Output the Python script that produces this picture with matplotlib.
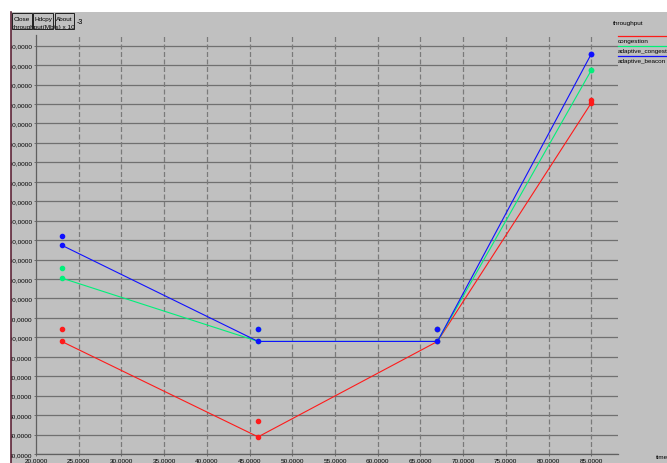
import matplotlib
matplotlib.use("Agg")
import matplotlib.pyplot as plt
from matplotlib.patches import Rectangle
from matplotlib.lines import Line2D

# ---- data ----
time_points = [23, 46, 67, 85]

congestion = [97.9, 48.8, 97.9, 220.5]
adaptive_congestion = [130.5, 97.9, 97.9, 237.3]
adaptive_beacon = [147.4, 97.9, 97.9, 245.7]

congestion_extra = [104.5, 57.0, 104.2, 222.0]
adaptive_congestion_extra = [135.7, 104.2, 104.2, 237.3]
adaptive_beacon_extra = [151.9, 104.2, 104.2, 245.7]

series_names = ["congestion", "adaptive_congestion", "adaptive_beacon"]
series_colors = ["#ff1a1a", "#00f07a", "#1010ff"]

x_ticks = [20, 25, 30, 35, 40, 45, 50, 55, 60, 65, 70, 75, 80, 85]
x_tick_labels = ["20,0000", "25,0000", "30,0000", "35,0000", "40,0000",
                 "45,0000", "50,0000", "55,0000", "60,0000", "65,0000",
                 "70,0000", "75,0000", "80,0000", "85,0000"]
y_ticks = [40, 50, 60, 70, 80, 90, 100, 110, 120, 130, 140, 150, 160,
           170, 180, 190, 200, 210, 220, 230, 240, 250]
y_tick_labels = ["40,0000", "50,0000", "60,0000", "70,0000", "80,0000",
                 "90,0000", "100,0000", "110,0000", "120,0000", "130,0000",
                 "140,0000", "150,0000", "160,0000", "170,0000", "180,0000",
                 "190,0000", "200,0000", "210,0000", "220,0000", "230,0000",
                 "240,0000", "250,0000"]

W, H = 667, 464
BG = "#c0c0c0"
FONT = ["Liberation Sans", "DejaVu Sans"]
FS = 4.6

plt.rcParams["font.family"] = FONT

fig = plt.figure(figsize=(W / 100, H / 100), dpi=100)
fig.patch.set_facecolor(BG)


def fx(px):
    return px / W


def fy(py):
    return 1 - py / H


ax = fig.add_axes([fx(36), fy(455), fx(617.7) - fx(36), fy(36) - fy(455)])
ax.set_facecolor(BG)
ax.set_xlim(20, 88.1)
ax.set_ylim(40, 255.5)

for s in ["top", "right"]:
    ax.spines[s].set_visible(False)
for s in ["left", "bottom"]:
    ax.spines[s].set_color("#606060")
    ax.spines[s].set_linewidth(0.9)

for yv in y_ticks:
    ax.axhline(yv, color="#707070", lw=0.9, zorder=1)
for xv in x_ticks[1:]:
    ax.axvline(xv, color="#7a7a7a", lw=0.9, ls=(0, (4, 2)), zorder=1)

ax.set_xticks(x_ticks)
ax.set_xticklabels(x_tick_labels, fontsize=FS)
ax.set_yticks(y_ticks)
ax.set_yticklabels(y_tick_labels, fontsize=FS)
ax.tick_params(axis="both", length=1.5, width=0.6, color="#606060", pad=1)

main = [congestion, adaptive_congestion, adaptive_beacon]
extra = [congestion_extra, adaptive_congestion_extra, adaptive_beacon_extra]
for vals, ext, col in zip(main, extra, series_colors):
    ax.plot(time_points, vals, color=col, lw=0.8, marker="o", ms=3.0,
            mec=col, mfc=col, zorder=3, clip_on=False)
    ax.plot(time_points, ext, ls="none", marker="o", ms=3.0,
            mec=col, mfc=col, zorder=3, clip_on=False)

# axis title and window buttons
fig.text(fx(12), fy(27), "throughput(Mb/s) x 10", fontsize=FS,
         ha="left", va="center")
fig.text(fx(76.5), fy(22.5), "-3", fontsize=FS + 0.6, ha="left", va="center")

buttons = [("Close", 12, 32), ("Hdcpy", 33, 53), ("About", 54.5, 73.5)]
for label, x0, x1 in buttons:
    fig.patches.append(Rectangle((fx(x0), fy(29.5)), fx(x1) - fx(x0),
                                 fy(13.5) - fy(29.5), transform=fig.transFigure,
                                 fill=False, ec="#202020", lw=0.7, zorder=5))
    fig.text(fx((x0 + x1) / 2), fy(19.5), label, fontsize=FS,
             ha="center", va="center", zorder=6)

# legend panel
fig.text(fx(613), fy(23), "throughput", fontsize=FS, ha="left", va="center")
legend_rows = [(36.7, 41.5), (47.0, 52.0), (57.3, 62.0)]
for name, col, (ly, ty) in zip(series_names, series_colors, legend_rows):
    fig.lines.append(Line2D([fx(618), fx(667)], [fy(ly), fy(ly)],
                            transform=fig.transFigure, color=col, lw=0.9))
    fig.text(fx(618), fy(ty), name, fontsize=FS, ha="left", va="center")

fig.text(fx(656), fy(458), "time", fontsize=FS, ha="left", va="center")

# outer desktop margin and window edge
fig.patches.append(Rectangle((0, 0), fx(10.5), 1, transform=fig.transFigure,
                             fc="white", ec="none", zorder=20))
fig.patches.append(Rectangle((0, fy(12.5)), 1, 1 - fy(12.5),
                             transform=fig.transFigure, fc="white",
                             ec="none", zorder=20))
fig.lines.append(Line2D([fx(11), fx(11)], [0, fy(12.5)],
                        transform=fig.transFigure, color="#5e2538",
                        lw=1.2, zorder=21))

fig.savefig("out.png", dpi=100, facecolor=fig.get_facecolor())
